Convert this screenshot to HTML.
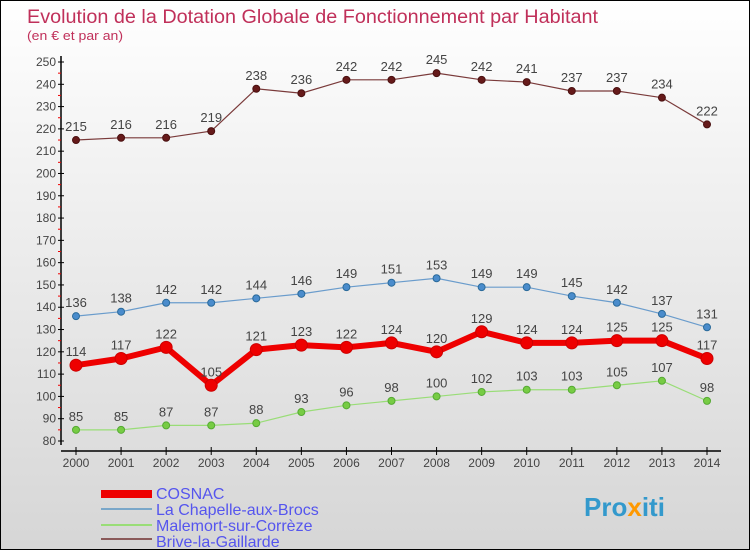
<!DOCTYPE html>
<html><head><meta charset="utf-8"><style>
body{margin:0;}
#c{width:750px;height:550px;position:relative;box-sizing:border-box;border:1px solid #000;background:linear-gradient(#ffffff,#f2f2f2 30%,#d6d6d6);font-family:"Liberation Sans","DejaVu Sans",sans-serif;overflow:hidden}
</style></head><body>
<div id="c">
<svg id="s" width="750" height="550" style="position:absolute;left:0;top:0">
<text x="26" y="22" font-size="19" textLength="571" lengthAdjust="spacingAndGlyphs" fill="#c0305a">Evolution de la Dotation Globale de Fonctionnement par Habitant</text>
<text x="26" y="39" font-size="13" textLength="96" lengthAdjust="spacingAndGlyphs" fill="#c0305a">(en € et par an)</text>
<g id="axes"></g><g id="series"></g>
<g>
<rect x="100" y="489" width="51" height="8" fill="#e00"/>
<text x="155" y="498" font-size="16" fill="#5555ee">COSNAC</text>
<rect x="100" y="507" width="51" height="2" fill="#7aa7c9"/>
<text x="155" y="514" font-size="16" fill="#5555ee">La Chapelle-aux-Brocs</text>
<rect x="100" y="523" width="51" height="2" fill="#99dd77"/>
<text x="155" y="530" font-size="16" fill="#5555ee">Malemort-sur-Corrèze</text>
<rect x="100" y="537" width="51" height="2" fill="#8a5a5a"/>
<text x="155" y="546" font-size="16" fill="#5555ee">Brive-la-Gaillarde</text>
</g>
<text x="583" y="515" font-size="26" font-weight="bold" fill="#3399cc">Pro<tspan fill="#ff9900">x</tspan>iti</text>
</svg>
</div>
<script>
const years=[2000,2001,2002,2003,2004,2005,2006,2007,2008,2009,2010,2011,2012,2013,2014];
const yTicks=[80,90,100,110,120,130,140,150,160,170,180,190,200,210,220,230,240,250];
const cosnac=[114,117,122,105,121,123,122,124,120,129,124,124,125,125,117];
const chapelle=[136,138,142,142,144,146,149,151,153,149,149,145,142,137,131];
const malemort=[85,85,87,87,88,93,96,98,100,102,103,103,105,107,98];
const brive=[215,216,216,219,238,236,242,242,245,242,241,237,237,234,222];
const NS="http://www.w3.org/2000/svg";
const X=i=>75+i*(706-75)/14;
const Y=v=>440-(v-80)*(440-61)/170;
function mk(t,a,p){const e=document.createElementNS(NS,t);for(const k in a)e.setAttribute(k,a[k]);p.appendChild(e);return e;}
const ax=document.getElementById('axes');
let l=mk('line',{x1:60,y1:55,x2:60,y2:444,stroke:'#000','stroke-width':1.5},ax);


l=mk('line',{x1:60,y1:450,x2:720,y2:450,stroke:'#000','stroke-width':1.5},ax);


yTicks.forEach(v=>{
 mk('line',{x1:57,x2:63,y1:Y(v),y2:Y(v),stroke:'#000'},ax);
 if(v<250)mk('line',{x1:57,x2:60,y1:Y(v+5),y2:Y(v+5),stroke:'#e00'},ax);
 const t=mk('text',{x:55,y:Y(v)+4,'text-anchor':'end','font-size':12,fill:'#444'},ax);t.textContent=v;
 
 
});
years.forEach((yr,i)=>{
 mk('line',{x1:X(i),x2:X(i),y1:446,y2:454,stroke:'#000'},ax);
 const t=mk('text',{x:X(i),y:466,'text-anchor':'middle','font-size':12,fill:'#444'},ax);t.textContent=yr;
 
 
});
const sg=document.getElementById('series');
function draw(d,name,col,dot,w,r,stroke){
 const g=mk('g',{},sg);
 
 
 mk('polyline',{points:d.map((v,i)=>X(i)+','+Y(v)).join(' '),fill:'none',stroke:col,'stroke-width':w},g);
 d.forEach((v,i)=>{
  const c=mk('circle',{cx:X(i),cy:Y(v),r:r,fill:dot,stroke:stroke,'stroke-width':1},g);
  
  
  const t=mk('text',{x:X(i),y:Y(v)-9,'text-anchor':'middle','font-size':13,fill:'#444'},g);t.textContent=v;
  
  
 });
}
draw(brive,'brive','#7a3a3a','#661a1a',1.2,3.5,'#4a1010');
draw(chapelle,'chapelle','#6a9ccc','#4a8ccc',1.2,3.5,'#2a6a9a');
draw(malemort,'malemort','#99dd77','#77cc44',1.2,3.5,'#55aa33');
draw(cosnac,'cosnac','#ee0000','#ee0000',6,6,'#cc0000');
</script>
</body></html>
